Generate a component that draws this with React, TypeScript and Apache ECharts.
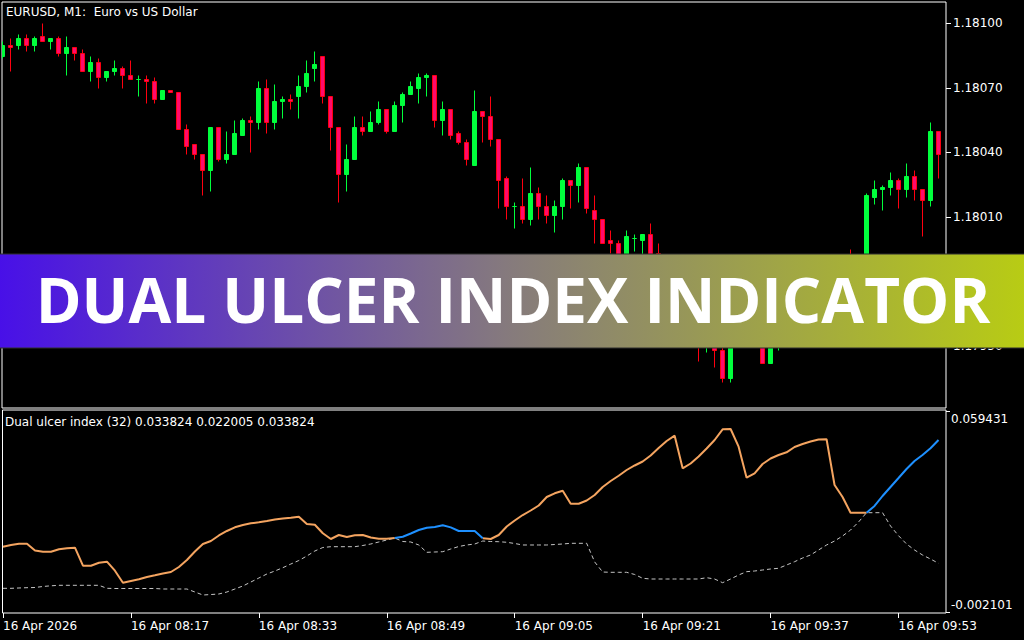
import React, { useEffect, useRef } from "react";
import * as echarts from "echarts";

// EURUSD M1 bars, 08:01 .. 09:58 (one bar per minute)
const opens = [
  1.18085, 1.1809, 1.1809, 1.18093, 1.1809, 1.18094, 1.18092, 1.18093, 1.18086, 1.18089,
  1.18086, 1.18078, 1.18082, 1.18075, 1.18078, 1.18079, 1.18076, 1.18074, 1.18074, 1.18073,
  1.18065, 1.18069, 1.18068, 1.18051, 1.18044, 1.18039, 1.18032, 1.18052, 1.18037, 1.18039,
  1.18048, 1.18055, 1.18054, 1.1807, 1.18054, 1.18064, 1.18065, 1.18066, 1.18071, 1.18079,
  1.18085, 1.18066, 1.18052, 1.1803, 1.18037, 1.18052, 1.1805, 1.18054, 1.1806, 1.1805,
  1.18062, 1.18067, 1.1807, 1.18075, 1.18076, 1.18055, 1.1806, 1.18049, 1.18045, 1.18034,
  1.18059, 1.18057, 1.18046, 1.18028, 1.18015, 1.18015, 1.18009, 1.18021, 1.18015, 1.18011,
  1.18015, 1.18027, 1.18025, 1.18033, 1.18013, 1.18009, 1.17999, 1.17998, 1.1799, 1.18,
  1.17999, 1.18002, 1.17993, 1.17992, 1.1798, 1.17972, 1.17976, 1.17962, 1.17952, 1.17956,
  1.17948, 1.17935, 1.17955, 1.17962, 1.17958, 1.1796, 1.17942, 1.17958, 1.17963, 1.17968,
  1.17965, 1.17972, 1.17976, 1.17973, 1.1798, 1.17984, 1.17982, 1.17978, 1.17984, 1.18019,
  1.18023, 1.18024, 1.18027, 1.18023, 1.18029, 1.18023, 1.18018, 1.1805,
];
const closes = [
  1.1809, 1.18089, 1.18093, 1.1809, 1.18093, 1.18092, 1.18093, 1.18086, 1.18089, 1.18086,
  1.18078, 1.18082, 1.18075, 1.18078, 1.18079, 1.18076, 1.18074, 1.18074, 1.18073, 1.18065,
  1.18069, 1.18068, 1.18051, 1.18043, 1.18039, 1.18032, 1.18052, 1.18037, 1.18039, 1.18049,
  1.18055, 1.18054, 1.1807, 1.18054, 1.18064, 1.18065, 1.18064, 1.18071, 1.18077, 1.18081,
  1.18066, 1.18052, 1.1803, 1.18037, 1.18052, 1.1805, 1.18054, 1.1806, 1.1805, 1.18062,
  1.18067, 1.18071, 1.18075, 1.18076, 1.18055, 1.1806, 1.18048, 1.18045, 1.18037, 1.18059,
  1.18057, 1.18046, 1.18027, 1.18015, 1.18015, 1.18009, 1.18021, 1.18015, 1.18011, 1.18015,
  1.18027, 1.18025, 1.18033, 1.18014, 1.18009, 1.17998, 1.17998, 1.1799, 1.18001, 1.18,
  1.18002, 1.1799, 1.17992, 1.1798, 1.17972, 1.17976, 1.17962, 1.17952, 1.17956, 1.17948,
  1.17935, 1.17955, 1.17962, 1.17958, 1.1796, 1.17942, 1.17958, 1.17963, 1.17968, 1.17965,
  1.17972, 1.17976, 1.17973, 1.1798, 1.17984, 1.17982, 1.17978, 1.17984, 1.1802, 1.18023,
  1.18024, 1.18027, 1.18023, 1.18029, 1.18023, 1.18018, 1.1805, 1.18039,
];
const highs = [
  1.18092, 1.18093, 1.18095, 1.18095, 1.18094, 1.181, 1.18093, 1.18094, 1.18094, 1.18089,
  1.18088, 1.18085, 1.18084, 1.18078, 1.18083, 1.1808, 1.18083, 1.18076, 1.18076, 1.18075,
  1.18069, 1.18069, 1.18068, 1.18053, 1.18044, 1.18039, 1.18052, 1.18052, 1.1805, 1.18055,
  1.18056, 1.18057, 1.18073, 1.18074, 1.18072, 1.18066, 1.18067, 1.18076, 1.18083, 1.18087,
  1.18085, 1.18066, 1.18052, 1.18044, 1.18057, 1.18057, 1.18059, 1.18064, 1.1806, 1.18064,
  1.18068, 1.18073, 1.18077, 1.18077, 1.18076, 1.18064, 1.1806, 1.1805, 1.18046, 1.18069,
  1.18059, 1.18066, 1.18046, 1.18029, 1.18017, 1.18028, 1.18033, 1.18024, 1.1802, 1.18018,
  1.18028, 1.18027, 1.18035, 1.18033, 1.1802, 1.18009, 1.18004, 1.17999, 1.18004, 1.18002,
  1.18002, 1.18007, 1.17998, 1.17992, 1.17984, 1.1798, 1.17978, 1.17965, 1.1796, 1.17958,
  1.1795, 1.17958, 1.17966, 1.17968, 1.17964, 1.17962, 1.1796, 1.17967, 1.17972, 1.17974,
  1.17976, 1.1798, 1.17982, 1.17984, 1.17988, 1.1799, 1.17995, 1.17988, 1.18021, 1.18027,
  1.18025, 1.18031, 1.18028, 1.18035, 1.18032, 1.18023, 1.18054, 1.1805,
];
const lows = [
  1.18084, 1.18078, 1.18088, 1.18087, 1.18087, 1.18092, 1.18088, 1.18085, 1.18076, 1.18083,
  1.18078, 1.18073, 1.1807, 1.18073, 1.18076, 1.1807, 1.18074, 1.18066, 1.18063, 1.18063,
  1.18065, 1.18068, 1.18051, 1.18039, 1.18037, 1.1802, 1.18022, 1.18036, 1.18035, 1.18039,
  1.18048, 1.1804, 1.18051, 1.18049, 1.18051, 1.18056, 1.1806, 1.18056, 1.18068, 1.18073,
  1.18063, 1.18041, 1.18017, 1.18022, 1.18037, 1.18048, 1.1805, 1.18053, 1.18049, 1.1805,
  1.18054, 1.18067, 1.18063, 1.18066, 1.18052, 1.18048, 1.18046, 1.18044, 1.18034, 1.18034,
  1.18045, 1.18043, 1.18014, 1.18009, 1.18005, 1.18007, 1.18006, 1.18009, 1.18007, 1.18003,
  1.18009, 1.18014, 1.18017, 1.18012, 1.17998, 1.17998, 1.17993, 1.17988, 1.17988, 1.17994,
  1.17992, 1.17988, 1.17988, 1.17975, 1.17968, 1.17966, 1.17958, 1.17943, 1.17947, 1.1794,
  1.17933, 1.17933, 1.17951, 1.17952, 1.1795, 1.17942, 1.17942, 1.17948, 1.17958, 1.1796,
  1.17962, 1.17968, 1.1797, 1.1797, 1.17976, 1.17978, 1.17975, 1.17974, 1.17982, 1.18016,
  1.18013, 1.1802, 1.18014, 1.18019, 1.18018, 1.18001, 1.18015, 1.18028,
];

// Dual ulcer index: upper (coloured) line and lower (dotted) line, one value per bar
const ulcerUpper = [
  0.01789, 0.01841, 0.01881, 0.01881, 0.01673, 0.01636, 0.01636, 0.01712, 0.0174, 0.01758,
  0.01207, 0.01207, 0.01299, 0.0133, 0.01054, 0.00687, 0.00739, 0.00791, 0.00861, 0.00913,
  0.00969, 0.01014, 0.01168, 0.01382, 0.01642, 0.01872, 0.01963, 0.02132, 0.0227, 0.02383,
  0.02453, 0.02505, 0.02536, 0.02576, 0.02619, 0.02652, 0.02677, 0.02707, 0.02484, 0.02462,
  0.02199, 0.02025, 0.02147, 0.02086, 0.02138, 0.02147, 0.02071, 0.02034, 0.02034, 0.02055,
  0.02095, 0.02193, 0.023, 0.02371, 0.02392, 0.02444, 0.0238, 0.0227, 0.0227, 0.0227,
  0.02046, 0.02025, 0.02147, 0.02407, 0.02591, 0.02759, 0.02897, 0.0305, 0.0331, 0.03424,
  0.03503, 0.03105, 0.03105, 0.03203, 0.03372, 0.03617, 0.038, 0.03962, 0.04137, 0.04275,
  0.04397, 0.04581, 0.0481, 0.05025, 0.05187, 0.04189, 0.04336, 0.0455, 0.04795, 0.05055,
  0.05383, 0.05392, 0.0485, 0.03901, 0.04036, 0.04321, 0.04489, 0.04596, 0.04679, 0.04841,
  0.04933, 0.05009, 0.05071, 0.05077, 0.03678, 0.0331, 0.0283, 0.0283, 0.0283, 0.03035,
  0.03341, 0.03617, 0.03892, 0.04168, 0.04412, 0.04596, 0.04801, 0.05055,
];
const ulcerLower = [
  0.00515, 0.00515, 0.00525, 0.00534, 0.0054, 0.00571, 0.00592, 0.00607, 0.00607, 0.00607,
  0.00607, 0.00607, 0.00607, 0.00515, 0.00509, 0.00509, 0.00509, 0.00509, 0.00509, 0.00509,
  0.00494, 0.00494, 0.00494, 0.00494, 0.00402, 0.0031, 0.00325, 0.00341, 0.00402, 0.00494,
  0.00586, 0.00708, 0.00831, 0.00953, 0.01045, 0.01146, 0.01259, 0.01366, 0.01504, 0.01657,
  0.01764, 0.01789, 0.01789, 0.01789, 0.01789, 0.01826, 0.01872, 0.01933, 0.01994, 0.02055,
  0.01948, 0.01933, 0.01841, 0.01617, 0.01627, 0.01636, 0.01719, 0.01795, 0.01841, 0.01872,
  0.01963, 0.01948, 0.01942, 0.01924, 0.01887, 0.01841, 0.01841, 0.01841, 0.01841, 0.01856,
  0.01872, 0.01893, 0.01893, 0.01893, 0.01321, 0.01014, 0.01005, 0.01005, 0.01005, 0.00938,
  0.00822, 0.008, 0.008, 0.008, 0.008, 0.008, 0.008, 0.008, 0.0084, 0.008,
  0.00687, 0.008, 0.00923, 0.01024, 0.01045, 0.01076, 0.01106, 0.01128, 0.01229, 0.0133,
  0.01443, 0.01535, 0.01688, 0.01841, 0.01963, 0.02117, 0.023, 0.02545, 0.0283, 0.0283,
  0.0283, 0.02423, 0.02126, 0.01872, 0.01688, 0.01535, 0.01412, 0.01281,
];
// bar ranges where the upper line is drawn in the second colour
const blueSpans = [
  [49, 60],
  [108, 117],
];

// price ticks; the 1.17980 label sits under the banner, so it is left unlabelled
const priceTicks = [1.1795, 1.1798, 1.1801, 1.1804, 1.1807, 1.181];
const priceLabels = [1.1795, 1.1801, 1.1804, 1.1807, 1.181];
const priceRange = [1.1792107, 1.1810991];
const indicatorTicks = [-0.002101, 0.059431];
const indicatorRange = [-0.002407, 0.059737];
const timeTickBars = [0, 16, 32, 48, 64, 80, 96, 112];
const timeTickLabels = [
  "16 Apr 2026",
  "16 Apr 08:17",
  "16 Apr 08:33",
  "16 Apr 08:49",
  "16 Apr 09:05",
  "16 Apr 09:21",
  "16 Apr 09:37",
  "16 Apr 09:53",
];
const barRange = [-0.0625, 117.9375];

const FONT = "'DejaVu Sans', Tahoma, sans-serif";
const BULL = "#00ff3c";
const BEAR_FILL = "#ff0a6c";
const BEAR_EDGE = "#ff0010";

export default function App() {
  const ref = useRef<HTMLDivElement>(null);

  useEffect(() => {
    if (!ref.current) return;
    const chart = echarts.init(ref.current, undefined, { renderer: "svg" });

    const candleData = opens.map((o, i) => [i, o, closes[i], lows[i], highs[i]]);
    const inBlue = (i: number) => blueSpans.some(([a, b]) => i >= a && i <= b);
    const inBlueInner = (i: number) => blueSpans.some(([a, b]) => i > a && i < b);
    const orangeData = ulcerUpper.map((v, i) => [i, inBlueInner(i) ? null : v]);
    const blueData = ulcerUpper.map((v, i) => [i, inBlue(i) ? v : null]);
    const lowerData = ulcerLower.map((v, i) => [i, v]);

    const labelStyle = { color: "#fff", fontFamily: FONT, fontSize: 12 };

    chart.setOption({
      animation: false,
      backgroundColor: "#000",
      title: [
        {
          text: "EURUSD, M1:  Euro vs US Dollar",
          left: 6,
          top: 6,
          padding: 0,
          textStyle: { ...labelStyle, fontWeight: "normal" },
        },
        {
          text: "Dual ulcer index (32) 0.033824 0.022005 0.033824",
          left: 5,
          top: 416,
          padding: 0,
          textStyle: { ...labelStyle, fontWeight: "normal" },
        },
      ],
      grid: [
        { left: 2, top: 2, width: 944, height: 406, show: true, borderColor: "#fff", borderWidth: 1, backgroundColor: "transparent" },
        { left: 2, top: 410, width: 944, height: 203, show: true, borderColor: "#fff", borderWidth: 1, backgroundColor: "transparent" },
      ],
      xAxis: [
        { type: "value", gridIndex: 0, min: barRange[0], max: barRange[1], show: false, axisLine: { onZero: false } },
        {
          type: "value",
          gridIndex: 1,
          min: barRange[0],
          max: barRange[1],
          position: "bottom",
          axisLine: { show: false, onZero: false },
          splitLine: { show: false },
          axisTick: { show: true, customValues: timeTickBars, length: 5, lineStyle: { color: "#fff" } },
          axisLabel: {
            ...labelStyle,
            customValues: timeTickBars,
            align: "left",
            margin: 7,
            formatter: (v: number) => timeTickLabels[timeTickBars.indexOf(Math.round(v))] ?? "",
          },
        },
      ],
      yAxis: [
        {
          type: "value",
          gridIndex: 0,
          position: "right",
          min: priceRange[0],
          max: priceRange[1],
          axisLine: { show: false, onZero: false },
          splitLine: { show: false },
          axisTick: { show: true, customValues: priceTicks, length: 5, lineStyle: { color: "#fff" } },
          axisLabel: {
            ...labelStyle,
            customValues: priceLabels,
            margin: 7,
            formatter: (v: number) => v.toFixed(5),
          },
        },
        {
          type: "value",
          gridIndex: 1,
          position: "right",
          min: indicatorRange[0],
          max: indicatorRange[1],
          axisLine: { show: false, onZero: false },
          splitLine: { show: false },
          axisTick: { show: true, customValues: indicatorTicks, length: 4, lineStyle: { color: "#fff" } },
          axisLabel: {
            ...labelStyle,
            customValues: indicatorTicks,
            margin: 5,
            formatter: (v: number) => (v > 0.03 ? `{hi|${v.toFixed(6)}}` : `{lo|${v.toFixed(6)}}`),
            rich: {
              hi: { ...labelStyle, padding: [16, 0, 0, 0] },
              lo: { ...labelStyle, padding: [0, 0, 14, 0] },
            },
          },
        },
      ],
      series: [
        {
          type: "custom",
          xAxisIndex: 0,
          yAxisIndex: 0,
          clip: true,
          data: candleData,
          encode: { x: 0, y: [1, 2, 3, 4] },
          renderItem: (_params: any, api: any) => {
            const i = api.value(0);
            const o = api.value(1);
            const c = api.value(2);
            const lo = api.value(3);
            const hi = api.value(4);
            const up = c >= o;
            const pO = api.coord([i, o]);
            const pC = api.coord([i, c]);
            const pH = api.coord([i, hi]);
            const pL = api.coord([i, lo]);
            const cx = Math.floor(pO[0]) + 0.5;
            const top = Math.round(Math.min(pO[1], pC[1])) + 0.5;
            const bot = Math.round(Math.max(pO[1], pC[1])) + 0.5;
            const stroke = up ? BULL : BEAR_EDGE;
            const fill = up ? BULL : BEAR_FILL;
            return {
              type: "group",
              children: [
                {
                  type: "line",
                  shape: { x1: cx, y1: Math.round(pH[1]) + 0.5, x2: cx, y2: Math.round(pL[1]) + 0.5 },
                  style: { stroke, lineWidth: 1 },
                },
                {
                  type: "rect",
                  shape: { x: cx - 2, y: top, width: 4, height: bot - top },
                  style: { fill, stroke, lineWidth: 1 },
                },
              ],
            };
          },
        },
        {
          type: "line",
          xAxisIndex: 1,
          yAxisIndex: 1,
          data: lowerData,
          symbol: "none",
          lineStyle: { color: "#c4c4c4", width: 1, type: [4, 3] },
          z: 2,
        },
        {
          type: "line",
          xAxisIndex: 1,
          yAxisIndex: 1,
          data: orangeData,
          symbol: "none",
          connectNulls: false,
          lineStyle: { color: "#f4a460", width: 2 },
          z: 3,
        },
        {
          type: "line",
          xAxisIndex: 1,
          yAxisIndex: 1,
          data: blueData,
          symbol: "none",
          connectNulls: false,
          lineStyle: { color: "#1e90ff", width: 2 },
          z: 4,
        },
      ],
      graphic: [
        {
          type: "rect",
          z: 100,
          shape: { x: -1, y: 254, width: 1026, height: 94 },
          style: {
            fill: {
              type: "linear",
              x: 0,
              y: 0,
              x2: 1,
              y2: 0,
              colorStops: [
                { offset: 0, color: "#4810e8" },
                { offset: 0.5, color: "#867b7c" },
                { offset: 1, color: "#b8cc14" },
              ],
            },
            stroke: "#2e2e2e",
            lineWidth: 1,
          },
        },
        {
          type: "text",
          z: 101,
          x: 513,
          y: 299,
          style: {
            text: "DUAL ULCER INDEX INDICATOR",
            fill: "#fff",
            font: "700 62px 'Open Sans', sans-serif",
            lineHeight: 46,
            textAlign: "center",
            textVerticalAlign: "middle",
          },
        },
      ],
    });

    return () => chart.dispose();
  }, []);

  return <div ref={ref} style={{ position: "fixed", left: 0, top: 0, width: 1024, height: 640 }} />;
}
